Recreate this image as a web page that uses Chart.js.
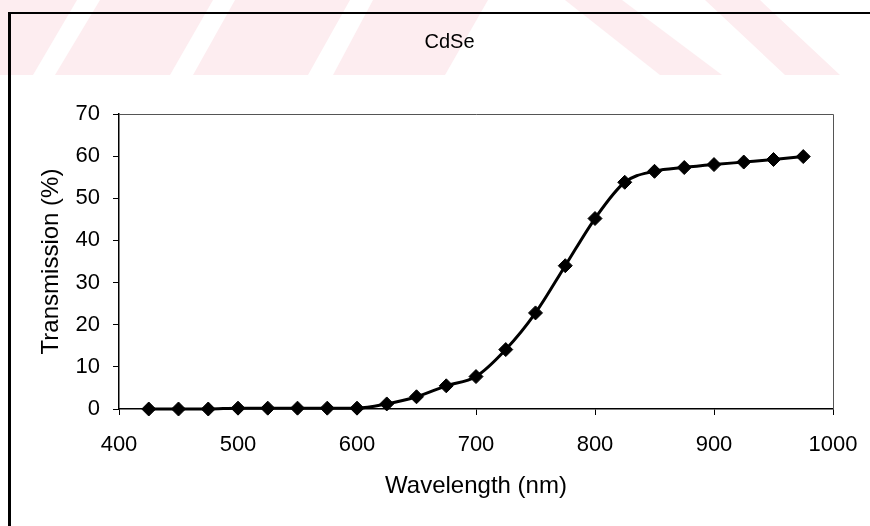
<!DOCTYPE html>
<html>
<head>
<meta charset="utf-8">
<title>CdSe</title>
<script src="https://cdn.jsdelivr.net/npm/chart.js@4.4.1/dist/chart.umd.min.js"></script>
<style>
  html, body { margin: 0; padding: 0; background: #fff; overflow: hidden; }
  #wrap { position: relative; width: 870px; height: 526px; }
  #band { position: absolute; left: 0; top: 0; }
  #chart { position: absolute; left: 0; top: 0; }
  #frame {
    position: absolute; left: 8px; top: 12px; width: 1000px; height: 1000px;
    border-left: 3px solid #000; border-top: 2px solid #000; pointer-events: none;
  }
</style>
</head>
<body>
<div id="wrap">
  <!-- pink striped header band -->
  <svg id="band" width="870" height="75">
    <g fill="#fdedf0">
      <polygon points="0,75 33,75 77,0 0,0"/>
      <polygon points="55,75 170,75 213,0 100,0"/>
      <polygon points="193,75 308,75 350,0 235,0"/>
      <polygon points="333,75 445,75 488,0 373,0"/>
      <polygon points="565,0 622,0 722,75 660,75"/>
      <polygon points="705,0 760,0 840,75 785,75"/>
    </g>
  </svg>
  <canvas id="chart" width="870" height="526"></canvas>
  <div id="frame"></div>
</div>
<script>
// wavelength (nm) and measured transmission (%)
var wavelength = [425, 450, 475, 500, 525, 550, 575, 600, 625, 650, 675, 700,
                  725, 750, 775, 800, 825, 850, 875, 900, 925, 950, 975];
var transmission = [0, 0, 0, 0.2, 0.2, 0.2, 0.2, 0.2, 1.2, 2.9, 5.5, 7.7,
                    14.1, 22.8, 34.0, 45.2, 53.8, 56.4, 57.3, 58.0, 58.6, 59.2, 59.9];

var xTicks = [400, 500, 600, 700, 800, 900, 1000];
var yTicks = [0, 10, 20, 30, 40, 50, 60, 70];

var points = [];
for (var i = 0; i < wavelength.length; i++) {
  points.push({x: wavelength[i], y: transmission[i]});
}

var font = "'Liberation Sans', Arial, sans-serif";

// thin grey line along the top and right of the plot box
var plotBox = {
  id: 'plotBox',
  beforeDatasetsDraw: function(chart) {
    var a = chart.chartArea, ctx = chart.ctx;
    ctx.save();
    ctx.strokeStyle = '#555';
    ctx.lineWidth = 1;
    ctx.beginPath();
    ctx.moveTo(a.left, a.top + 0.5);
    ctx.lineTo(a.right + 0.5, a.top + 0.5);
    ctx.lineTo(a.right + 0.5, a.bottom);
    ctx.stroke();
    ctx.restore();
  }
};

new Chart(document.getElementById('chart'), {
  type: 'scatter',
  data: {
    datasets: [{
      data: points,
      showLine: true,
      borderColor: '#000',
      backgroundColor: '#000',
      borderWidth: 3,
      cubicInterpolationMode: 'monotone',
      pointStyle: 'rectRot',
      pointRadius: 7,
      pointBorderWidth: 1,
      pointBackgroundColor: '#000',
      pointBorderColor: '#000',
      clip: false
    }]
  },
  options: {
    responsive: false,
    animation: false,
    layout: { padding: { left: 29, right: 0, top: 0, bottom: 0 } },
    plugins: {
      legend: { display: false },
      tooltip: { enabled: false },
      title: {
        display: true,
        text: 'CdSe',
        color: '#000',
        font: { family: font, size: 20, weight: 'normal' },
        padding: { top: 30, bottom: 60 }
      }
    },
    scales: {
      x: {
        type: 'linear',
        min: 400, max: 1000,
        afterFit: function(s) {
          s.height = 117;
          // end labels may hang past the plot edges
          s.paddingLeft = 0;
          s.paddingRight = 0;
        },
        afterBuildTicks: function(s) { s.ticks = xTicks.map(function(v) { return {value: v}; }); },
        border: { color: '#000', width: 1.5 },
        grid: { drawOnChartArea: false, color: '#000', tickLength: 6, lineWidth: 1 },
        ticks: {
          color: '#000', padding: 17, maxRotation: 0,
          font: { family: font, size: 22 },
          callback: function(v) { return String(v); }
        },
        title: {
          display: true,
          text: 'Wavelength (nm)',
          color: '#000',
          font: { family: font, size: 24 },
          padding: { top: 0, bottom: 25 }
        }
      },
      y: {
        type: 'linear',
        min: 0, max: 70,
        afterFit: function(s) { s.width = 90; },
        afterBuildTicks: function(s) { s.ticks = yTicks.map(function(v) { return {value: v}; }); },
        border: { color: '#000', width: 1.5 },
        grid: { drawOnChartArea: false, color: '#000', tickLength: 6, lineWidth: 1 },
        ticks: { color: '#000', padding: 13, font: { family: font, size: 22 } },
        title: {
          display: true,
          text: 'Transmission (%)',
          color: '#000',
          font: { family: font, size: 24 },
          padding: { top: 8, bottom: 0 }
        }
      },
      // empty right-hand box keeping the plot clear of the page edge
      yRight: {
        type: 'linear',
        position: 'right',
        min: 0, max: 70,
        afterFit: function(s) { s.width = 37; },
        border: { display: false },
        grid: { display: false },
        ticks: { display: false }
      }
    }
  },
  plugins: [plotBox]
});
</script>
</body>
</html>
